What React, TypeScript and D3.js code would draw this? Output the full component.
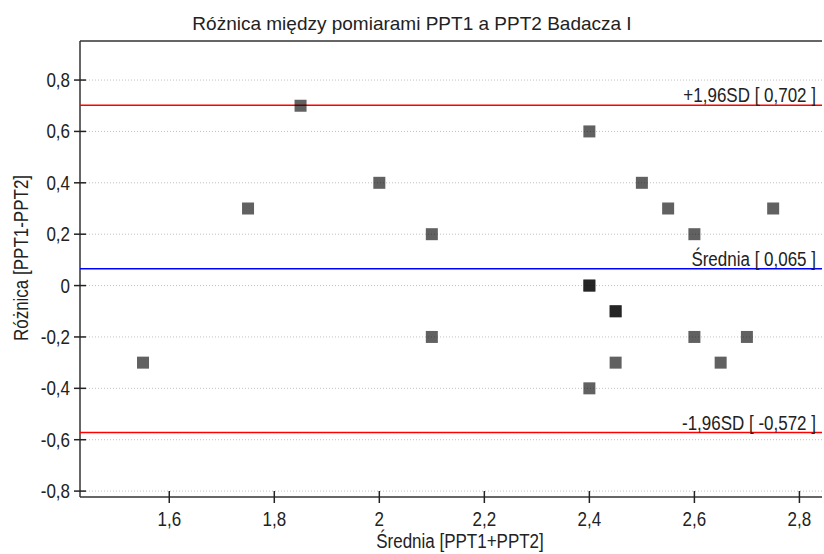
import React from 'react';
import * as d3 from 'd3';

// Bland-Altman data: mean of two measurements (x) and their difference (y)
const means = [1.55, 1.75, 1.85, 2.0, 2.1, 2.1, 2.4, 2.4, 2.4, 2.4, 2.45, 2.45, 2.45, 2.5, 2.55, 2.6, 2.6, 2.65, 2.7, 2.75];
const diffs = [-0.3, 0.3, 0.7, 0.4, 0.2, -0.2, 0.6, 0, 0, -0.4, -0.1, -0.1, -0.3, 0.4, 0.3, 0.2, -0.2, -0.3, -0.2, 0.3];

const xTicks = [1.6, 1.8, 2.0, 2.2, 2.4, 2.6, 2.8];
const yTicks = [0.8, 0.6, 0.4, 0.2, 0, -0.2, -0.4, -0.6, -0.8];

const refLines = [
  { value: 0.702, label: '+1,96SD [ 0,702 ]', color: '#ff0000' },
  { value: 0.065, label: 'Średnia [ 0,065 ]', color: '#0000ff' },
  { value: -0.572, label: '-1,96SD [ -0,572 ]', color: '#ff0000' },
];

const width = 824, height = 554;
const left = 80, right = 822, top = 41, bottom = 497;

const fmt = (v: number) => String(+v.toFixed(2)).replace('.', ',');

// text stretched a bit vertically, like the narrow UI font of the original
const Label = ({ x, y, anchor, children, rotate = 0 }: any) => (
  <text transform={`translate(${x},${y}) rotate(${rotate}) scale(1,1.15)`} textAnchor={anchor}
    fontSize={17} fill="#222">{children}</text>
);

export default function App() {
  const x = d3.scaleLinear().domain([1.43, 2.843]).range([left, right]);
  const y = d3.scaleLinear().domain([-0.823, 0.952]).range([bottom, top]);
  const font = '"Liberation Sans", Arial, sans-serif';
  const size = 12;

  return (
    <svg width={width} height={height} style={{ position: 'absolute', left: 0, top: 0, background: '#fff' }}
      fontFamily={font}>
      <text x={412} y={30} textAnchor="middle" fontSize={19} fill="#222">
        Różnica między pomiarami PPT1 a PPT2 Badacza I
      </text>

      {/* dotted grid */}
      {yTicks.map(t => (
        <line key={'g' + t} x1={left} x2={right} y1={y(t)} y2={y(t)}
          stroke="#c0c0c0" strokeWidth={1} strokeDasharray="1,2" />
      ))}

      {/* frame */}
      <line x1={left} x2={right} y1={top} y2={top} stroke="#333" strokeWidth={1.5} />
      <line x1={left} x2={right} y1={bottom} y2={bottom} stroke="#333" strokeWidth={1.5} />
      <line x1={left} x2={left} y1={top} y2={bottom} stroke="#333" strokeWidth={1.5} />

      {/* y axis */}
      {yTicks.map(t => (
        <g key={'y' + t}>
          <line x1={left - 6} x2={left + 6} y1={y(t)} y2={y(t)} stroke="#222" strokeWidth={1.5} />
          <Label x={70} y={y(t) + 7} anchor="end">{fmt(t)}</Label>
        </g>
      ))}

      {/* x axis */}
      {xTicks.map(t => (
        <g key={'x' + t}>
          <line x1={x(t)} x2={x(t)} y1={bottom - 6} y2={bottom + 6} stroke="#222" strokeWidth={1.5} />
          <Label x={x(t)} y={526} anchor="middle">{fmt(t)}</Label>
        </g>
      ))}

      {/* reference lines */}
      {refLines.map(r => (
        <g key={r.label}>
          <line x1={left} x2={right} y1={y(r.value)} y2={y(r.value)} stroke={r.color} strokeWidth={1.5} />
          <Label x={816} y={y(r.value) - 3} anchor="end">{r.label}</Label>
        </g>
      ))}

      {/* points */}
      {means.map((m, i) => (
        <rect key={i} x={x(m) - size / 2} y={y(diffs[i]) - size / 2} width={size} height={size}
          fill="#000" fillOpacity={0.62} />
      ))}

      <Label x={460} y={548} anchor="middle">Średnia [PPT1+PPT2]</Label>
      <Label x={28} y={258} anchor="middle" rotate={-90}>Różnica [PPT1-PPT2]</Label>
    </svg>
  );
}
